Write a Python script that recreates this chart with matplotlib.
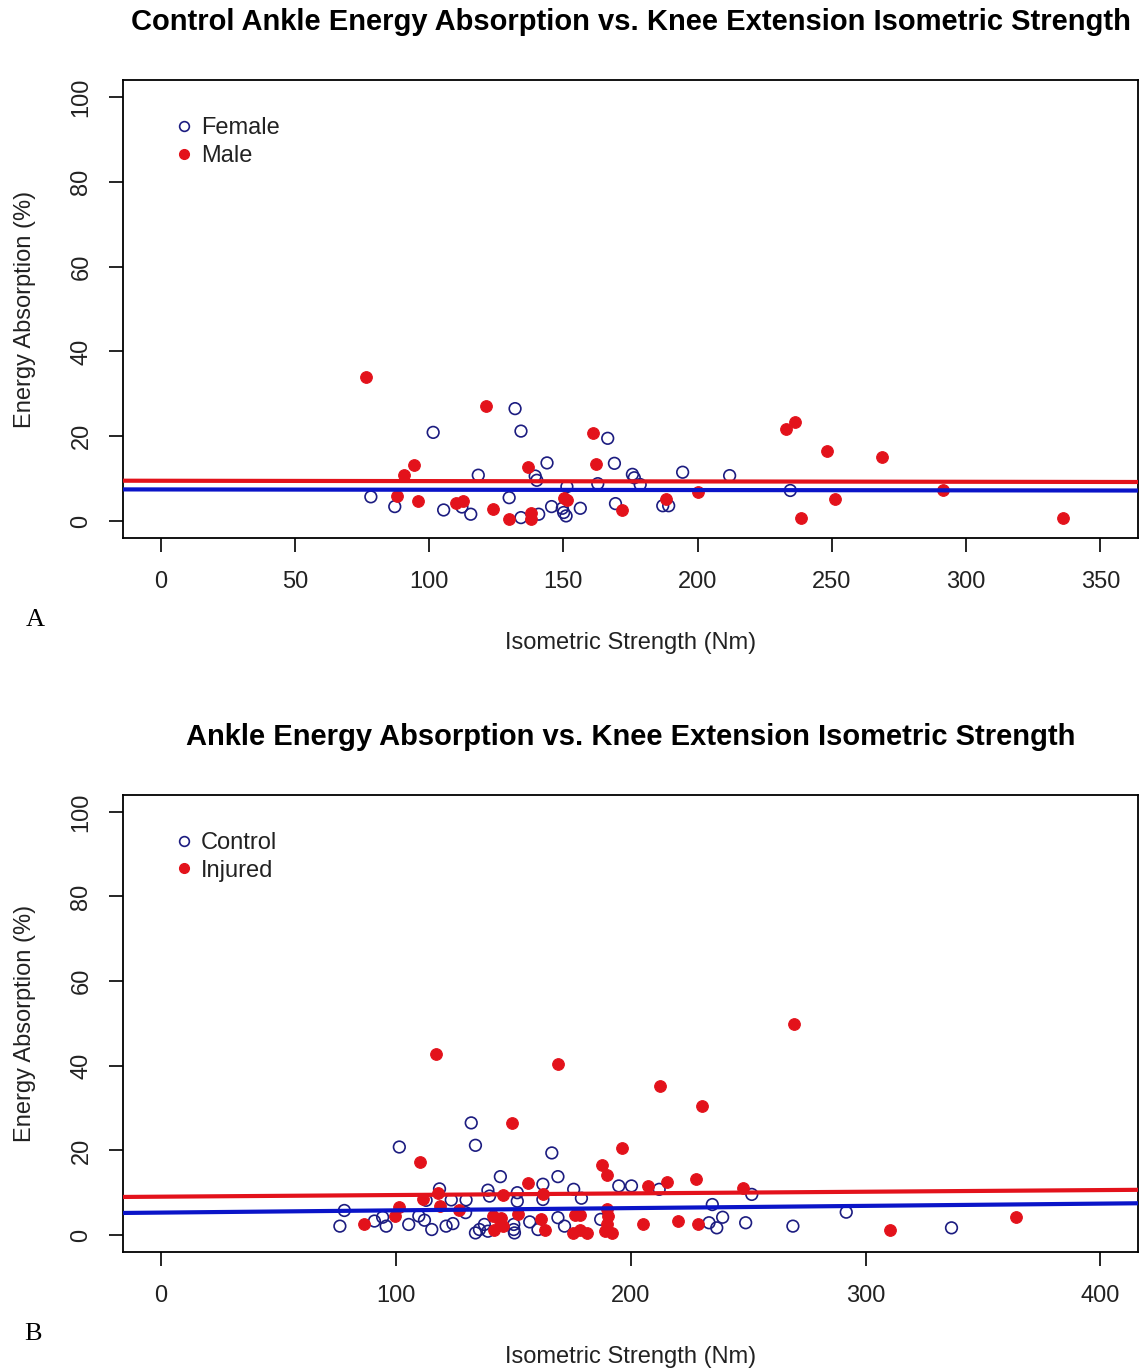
import matplotlib
matplotlib.use('Agg')
import matplotlib.pyplot as plt
from matplotlib.lines import Line2D

plt.rcParams['font.family'] = ['Liberation Sans', 'DejaVu Sans']

# panel A: controls only, split by sex
female_x = [132.0, 101.5, 134.2, 166.5, 143.9, 169.0, 118.3, 139.5, 140.1, 175.7,
            176.4, 178.6, 162.8, 151.3, 78.3, 129.8, 87.2, 105.4, 115.5, 134.2,
            145.6, 156.3, 169.4, 140.8, 149.6, 150.1, 151.0, 112.2, 194.4, 211.9,
            234.5, 187.0, 189.2]
female_y = [26.5, 20.9, 21.2, 19.5, 13.7, 13.6, 10.8, 10.6, 9.6, 11.0,
            10.2, 8.6, 8.8, 8.1, 5.7, 5.5, 3.4, 2.6, 1.6, 0.8,
            3.4, 3.0, 4.1, 1.6, 3.0, 2.0, 1.2, 3.3, 11.5, 10.7,
            7.2, 3.6, 3.6]
male_x = [76.4, 121.0, 94.3, 90.6, 88.0, 95.8, 110.0, 112.6, 123.7, 136.8,
          129.7, 138.0, 138.0, 150.2, 151.2, 161.0, 162.0, 171.8, 188.2, 200.0,
          233.0, 236.4, 248.2, 251.2, 238.5, 268.7, 291.3, 336.0]
male_y = [33.9, 27.1, 13.2, 10.8, 5.9, 4.7, 4.2, 4.7, 2.8, 12.7,
          0.5, 1.9, 0.5, 5.4, 4.9, 20.7, 13.4, 2.6, 5.1, 6.9,
          21.6, 23.3, 16.5, 5.3, 0.8, 15.1, 7.2, 0.8]
# fitted lines (intercept, slope)
female_fit = (7.44, -0.0007)
male_fit = (9.49, -0.0008)

# panel B: control vs injured
control_x = [132.2, 134.0, 101.6, 166.5, 144.6, 169.1, 162.7, 175.8, 179.1, 118.7,
             139.3, 140.0, 151.8, 151.8, 162.7, 113.0, 123.7, 130.0, 129.8, 78.2,
             76.3, 91.0, 94.5, 96.0, 105.6, 109.9, 112.3, 115.4, 121.5, 124.4,
             134.0, 135.7, 137.8, 139.3, 150.3, 150.3, 150.6, 157.1, 160.6, 169.1,
             171.9, 187.3, 195.0, 200.4, 212.2, 251.6, 234.8, 239.2, 233.4, 236.7,
             249.0, 269.1, 291.8, 336.6]
control_y = [26.5, 21.2, 20.8, 19.4, 13.8, 13.8, 12.0, 10.8, 8.7, 10.9,
             10.6, 9.2, 10.0, 8.0, 8.4, 8.2, 8.3, 8.3, 5.3, 5.8,
             2.1, 3.3, 4.2, 2.1, 2.5, 4.5, 3.5, 1.3, 2.1, 2.7,
             0.5, 1.3, 2.5, 0.9, 2.5, 1.3, 0.5, 3.1, 1.3, 4.1,
             2.1, 3.7, 11.6, 11.6, 10.8, 9.6, 7.2, 4.2, 2.9, 1.7,
             2.9, 2.1, 5.4, 1.7]
injured_x = [117.3, 169.2, 149.7, 110.2, 118.0, 111.6, 118.7, 101.6, 99.8, 86.7,
             127.2, 145.7, 156.3, 162.7, 152.1, 141.4, 144.3, 142.1, 145.6, 145.0,
             162.0, 163.5, 176.2, 178.3, 175.5, 178.3, 181.5, 188.0, 190.0, 190.4,
             189.0, 191.9, 189.8, 196.2, 269.7, 212.7, 230.3, 207.5, 215.4, 227.7,
             247.8, 205.3, 220.3, 228.8, 310.3, 363.9, 189.8]
injured_y = [42.8, 40.3, 26.5, 17.2, 10.0, 8.6, 6.8, 6.6, 4.6, 2.7,
             5.9, 9.4, 12.2, 9.6, 5.0, 4.5, 3.3, 1.3, 2.1, 4.1,
             3.7, 1.1, 4.7, 4.7, 0.5, 1.3, 0.5, 16.5, 14.3, 4.5,
             0.9, 0.5, 2.5, 20.6, 49.8, 35.1, 30.6, 11.6, 12.5, 13.3,
             11.2, 2.5, 3.3, 2.5, 1.1, 4.3, 6.1]
control_fit = (5.30, 0.0053)
injured_fit = (9.06, 0.0039)

BLUE_PT = '#1c1c80'
BLUE_LN = '#0a14c8'
RED = '#e3121b'
TXT = '#222222'


def draw_panel(ax, title, xs, ys, labels, fits, xmax, xticks):
    (bx, rx), (by, ry) = xs, ys
    ax.scatter(bx, by, s=70, facecolors='none', edgecolors=BLUE_PT, linewidths=1.2, zorder=2)
    ax.scatter(rx, ry, s=70, color=RED, edgecolors=RED, linewidths=0.8, zorder=2)

    ax.set_xlim(-0.04 * xmax, 1.04 * xmax)
    ax.set_ylim(-4, 104)
    # regression lines across the whole plot region
    x0, x1 = ax.get_xlim()
    for (a, b), c in zip(fits, [BLUE_LN, RED]):
        ax.plot([x0, x1], [a + b * x0, a + b * x1], color=c, lw=3, zorder=3)

    ax.set_xticks(xticks)
    ax.set_yticks([0, 20, 40, 60, 80, 100])
    ax.set_yticklabels(['0', '20', '40', '60', '80', '100'], rotation=90, va='center')
    ax.tick_params(direction='out', length=10, width=1.2, labelsize=17, colors='black',
                   labelcolor=TXT)
    ax.tick_params(axis='x', pad=14)
    ax.tick_params(axis='y', pad=12)
    for sp in ax.spines.values():
        sp.set_linewidth(1.3)

    ax.set_title(title, fontsize=21, fontweight='bold', pad=36, color='black')
    ax.set_xlabel('Isometric Strength (Nm)', fontsize=17, color=TXT, labelpad=28)
    ax.set_ylabel('Energy Absorption (%)', fontsize=17, color=TXT, labelpad=25)

    handles = [Line2D([], [], ls='none', marker='o', ms=7, mfc='none', mec=BLUE_PT, mew=1.2),
               Line2D([], [], ls='none', marker='o', ms=7, mfc=RED, mec=RED)]
    leg = ax.legend(handles, labels, loc='upper left', bbox_to_anchor=(0.041, 0.94),
                    frameon=False, fontsize=17, handlelength=0.8, handletextpad=0.35,
                    labelspacing=0.25, borderaxespad=0)
    for t in leg.get_texts():
        t.set_color(TXT)


fig = plt.figure(figsize=(11.4, 13.72), dpi=100)
ax1 = fig.add_axes([0.1079, 0.6079, 0.8904, 0.3338])
ax2 = fig.add_axes([0.1079, 0.0875, 0.8904, 0.3331])

draw_panel(ax1, 'Control Ankle Energy Absorption vs. Knee Extension Isometric Strength',
           (female_x, male_x), (female_y, male_y), ['Female', 'Male'],
           [female_fit, male_fit], 350, [0, 50, 100, 150, 200, 250, 300, 350])
draw_panel(ax2, 'Ankle Energy Absorption vs. Knee Extension Isometric Strength',
           (control_x, injured_x), (control_y, injured_y), ['Control', 'Injured'],
           [control_fit, injured_fit], 400, [0, 100, 200, 300, 400])

fig.text(35 / 1140, 1 - 620 / 1372, 'A', family='Liberation Serif', fontsize=19,
         ha='center', va='center')
fig.text(33 / 1140, 1 - 1334 / 1372, 'B', family='Liberation Serif', fontsize=19,
         ha='center', va='center')

fig.savefig('out.png', dpi=100)
